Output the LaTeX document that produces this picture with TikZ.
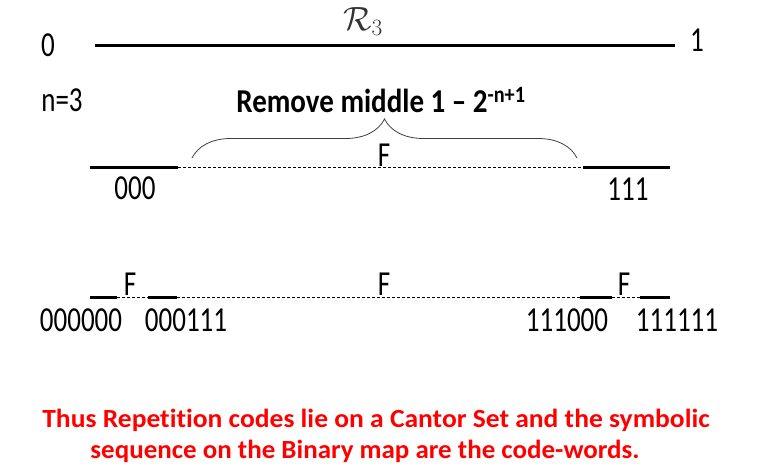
\documentclass[tikz,border=0pt]{standalone}
\usepackage{fontspec}
\setmainfont{Carlito}[Ligatures=NoCommon]
\usetikzlibrary{decorations.pathreplacing}

\newcommand\tall[1]{\scalebox{1}[1.3]{#1}}

\tikzset{
  seg/.style={line width=3pt},
  gap/.style={dash pattern=on 3pt off 2pt, line width=0.6pt},
  lbl/.style={font=\fontsize{27}{32}\selectfont, inner sep=0pt},
  note/.style={font=\bfseries\fontsize{27}{32}\selectfont, text=red, inner sep=0pt, anchor=base},
}

\begin{document}
\begin{tikzpicture}[x=1pt,y=-1pt]
\useasboundingbox (0,0) rectangle (768,466);

  %% unit interval
  \coordinate (a0) at (95,45);
  \coordinate (a1) at (675,45);
  \draw[seg] (a0) -- (a1);
  \node[lbl] (zero) at (48,45) {\tall{0}};
  \node[lbl] (one) at (697,40) {\tall{1}};
  \node[lbl,text=black!80] (rtitle) at (363,22) {\scalebox{1.35}{$\mathcal{R}_3$}};

  %% first step
  \node[lbl] (nlbl) at (62,100) {\tall{n=3}};
  \node[lbl,font=\bfseries\fontsize{29}{34}\selectfont] (remove) at (381,100)
    {\scalebox{1}[1.15]{Remove middle 1 -- 2\textsuperscript{-n+1}}};

  \coordinate (b0) at (90,167);
  \coordinate (b1) at (178,167);
  \coordinate (b2) at (583,167);
  \coordinate (b3) at (670,167);
  \draw[seg] (b0) -- (b1);
  \draw[gap] (b1) -- (b2);
  \draw[seg] (b2) -- (b3);
  \node[lbl] (fmid) at (384,155) {\tall{F}};
  \node[lbl] (w000) at (135,188) {\tall{000}};
  \node[lbl] (w111) at (628,189) {\tall{111}};

  \coordinate (brl) at (192,158);
  \coordinate (brr) at (577,158);
  \draw[decorate,decoration={brace,amplitude=39pt},line width=0.8pt,black!75]
    (brl) -- (brr);

  %% second step
  \coordinate (c0) at (90,297);
  \coordinate (c1) at (117,297);
  \coordinate (c2) at (148,297);
  \coordinate (c3) at (177,297);
  \coordinate (c4) at (580,297);
  \coordinate (c5) at (612,297);
  \coordinate (c6) at (640,297);
  \coordinate (c7) at (670,297);
  \draw[seg] (c0) -- (c1);
  \draw[gap] (c1) -- (c2);
  \draw[seg] (c2) -- (c3);
  \draw[gap] (c3) -- (c4);
  \draw[seg] (c4) -- (c5);
  \draw[gap] (c5) -- (c6);
  \draw[seg] (c6) -- (c7);
  \node[lbl] (fl) at (130,284) {\tall{F}};
  \node[lbl] (fc) at (384,284) {\tall{F}};
  \node[lbl] (fr) at (624,284) {\tall{F}};
  \node[lbl] (w000000) at (81,320) {\tall{000000}};
  \node[lbl] (w000111) at (186,320) {\tall{000111}};
  \node[lbl] (w111000) at (567,320) {\tall{111000}};
  \node[lbl] (w111111) at (677,320) {\tall{111111}};

  %% conclusion
  \node[note] (line1) at (376,427)
    {\scalebox{1.02}[0.97]{Thus Repetition codes lie on a Cantor Set and the symbolic}};
  \node[note] (line2) at (365,458)
    {\scalebox{1.0}[0.97]{sequence on the Binary map are the code-words.}};

\end{tikzpicture}
\end{document}
